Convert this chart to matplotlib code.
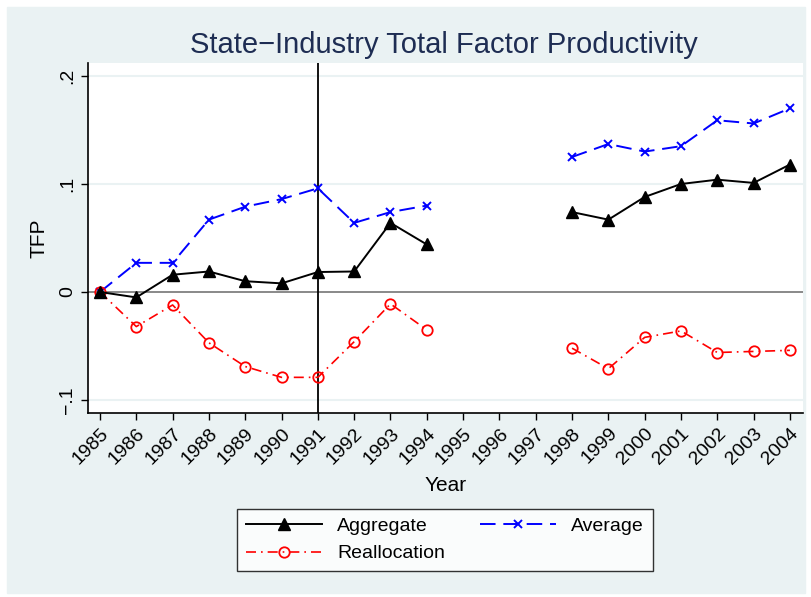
import numpy as np
import matplotlib.pyplot as plt

years = np.arange(1985, 2005)
nan = np.nan
aggregate = [0.0, -0.005, 0.016, 0.019, 0.010, 0.008, 0.0185, 0.019, 0.064, 0.044,
             nan, nan, nan, 0.074, 0.067, 0.088, 0.100, 0.104, 0.101, 0.118]
average = [0.0, 0.027, 0.027, 0.067, 0.079, 0.086, 0.096, 0.064, 0.074, 0.080,
           nan, nan, nan, 0.125, 0.137, 0.130, 0.135, 0.159, 0.156, 0.170]
realloc = [0.0, -0.032, -0.012, -0.047, -0.069, -0.079, -0.079, -0.046, -0.011, -0.035,
           nan, nan, nan, -0.052, -0.071, -0.042, -0.036, -0.056, -0.055, -0.054]
yticks = [-0.1, 0, 0.1, 0.2]
ytick_labels = ["\u2212.1", "0", ".1", ".2"]

plt.rcParams['font.family'] = ['Liberation Sans Narrow', 'Liberation Sans', 'DejaVu Sans']

bg = '#EAF2F3'
fig = plt.figure(figsize=(8.12, 5.97), dpi=100, facecolor='white')
fig.patches.append(plt.Rectangle((7 / 812, 4 / 597), 798 / 812, 586 / 597,
                                 transform=fig.transFigure, color=bg, zorder=-1))
ax = fig.add_axes([88 / 812, 184 / 597, 715 / 812, 350 / 597])
ax.set_facecolor('white')

ax.set_ylim(-0.112, 0.212)
ax.set_xlim(1984.67, 2004.36)
for g in [-0.1, 0.1, 0.2]:
    ax.axhline(g, color=bg, lw=1.5, zorder=0)
ax.axhline(0, color='#808080', lw=1.3, zorder=1)
ax.axvline(1991, color='black', lw=1.3, zorder=1)

l1, = ax.plot(years, aggregate, color='black', lw=1.4, marker='^', ms=8.5, label='Aggregate', zorder=4)
l2, = ax.plot(years, average, color='blue', lw=1.4, ls=(0, (8, 4)), marker='x', ms=6, mew=1.4,
              label='Average', zorder=3)
l3, = ax.plot(years, realloc, color='red', lw=1.2, ls=(0, (6, 3, 1, 3)), marker='o', ms=7.5,
              mfc='none', mew=1.3, label='Reallocation', zorder=3)

for s in ['top', 'right']:
    ax.spines[s].set_visible(False)
ax.spines['left'].set_linewidth(1.2)
ax.spines['bottom'].set_linewidth(1.2)

ax.set_yticks(yticks)
ax.set_yticklabels(ytick_labels, rotation=90, va='center', fontsize=14)
ax.set_xticks(years)
ax.set_xticklabels([str(y) for y in years], rotation=45, ha='right', rotation_mode='anchor',
                   fontsize=14)
ax.tick_params(length=5, width=1)
ax.set_xlabel('Year', fontsize=15, labelpad=6)
ax.set_ylabel('TFP', fontsize=15, labelpad=8)

fig.text(0.547, 0.925, 'State\u2212Industry Total Factor Productivity', ha='center',
         va='center', fontsize=21, color='#1E2D53')

# column-wise fill: Aggregate, Reallocation | Average
leg = fig.legend([l1, l3, l2], ['Aggregate', 'Reallocation', 'Average'],
                 loc='center', bbox_to_anchor=(445 / 812, 1 - 540 / 597), ncol=2,
                 handlelength=3.9, handletextpad=0.8, fontsize=14, frameon=True,
                 fancybox=False, edgecolor='black', columnspacing=1.8, borderpad=0.45,
                 labelspacing=0.5)
leg.get_frame().set_linewidth(1)

fig.savefig('out.png', dpi=100, facecolor='white')
